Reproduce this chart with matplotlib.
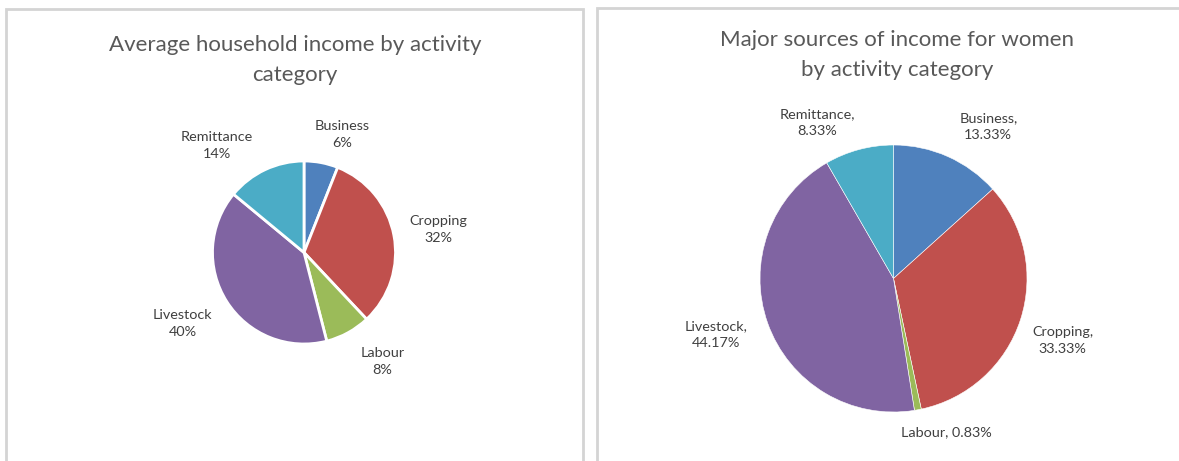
import numpy as np
import matplotlib
matplotlib.use("Agg")
import matplotlib.pyplot as plt
from matplotlib.patches import Rectangle

plt.rcParams['font.family'] = ['Lato', 'DejaVu Sans']

categories = ['Business', 'Cropping', 'Labour', 'Livestock', 'Remittance']
colors = ['#4F81BD', '#C0504D', '#9BBB59', '#8064A2', '#4BACC6']

# average household income share (%)
household_share = [6, 32, 8, 40, 14]
# women's income sources share (%)
women_share = [13.33, 33.33, 0.83, 44.17, 8.33]

W, H = 1179, 461
fig = plt.figure(figsize=(W / 100, H / 100), dpi=100)

# panel frames
for x0, x1, y0 in [(6, 583, 9), (597, 1190, 8)]:
    fig.add_artist(Rectangle((x0 / W, -0.05), (x1 - x0) / W, 1.05 - y0 / H,
                             transform=fig.transFigure, fill=False,
                             edgecolor='#D4D4D4', linewidth=2))


def pie_axes(cx, cy, r):
    ax = fig.add_axes([(cx - r) / W, 1 - (cy + r) / H, 2 * r / W, 2 * r / H])
    ax.set_xlim(-1, 1)
    ax.set_ylim(-1, 1)
    ax.axis('off')
    return ax


def label_at(ax, wedge, text, dist, shift):
    ang = np.deg2rad((wedge.theta1 + wedge.theta2) / 2 + shift)
    ax.text(dist * np.cos(ang), dist * np.sin(ang), text, ha='center', va='center',
            fontsize=10.4, color='#404040', linespacing=1.5)


# left chart
ax1 = pie_axes(304, 252.5, 91.5)
wedges, _ = ax1.pie(household_share, colors=colors, startangle=90, counterclock=False,
                    radius=1, wedgeprops=dict(edgecolor='white', linewidth=2))
ax1.set_xlim(-1, 1)
ax1.set_ylim(-1, 1)
left_dist = [1.35, 1.49, 1.47, 1.54, 1.51]
left_shift = [-7, -1, 7, -2, 14]
for w, name, v, d, s in zip(wedges, categories, household_share, left_dist, left_shift):
    label_at(ax1, w, f'{name}\n{v:.0f}%', d, s)
fig.text(295 / W, 1 - 60 / H, 'Average household income by activity\ncategory',
         ha='center', va='center', fontsize=16, color='#595959', linespacing=1.58)

# right chart
ax2 = pie_axes(893.5, 278.5, 133.5)
wedges, _ = ax2.pie(women_share, colors=colors, startangle=90, counterclock=False,
                    radius=1, wedgeprops=dict(edgecolor='white', linewidth=0.4))
ax2.set_xlim(-1, 1)
ax2.set_ylim(-1, 1)
right_dist = [1.34, 1.35, 1.22, 1.39, 1.30]
right_shift = [-8, -2, 8.5, -2, 11]
for w, name, v, d, s in zip(wedges, categories, women_share, right_dist, right_shift):
    sep = ' ' if name == 'Labour' else '\n'
    label_at(ax2, w, f'{name},{sep}{v:.2f}%', d, s)
fig.text(897 / W, 1 - 55 / H, 'Major sources of income for women\nby activity category',
         ha='center', va='center', fontsize=16, color='#595959', linespacing=1.58)

fig.savefig('out.png', dpi=100, facecolor='white')
